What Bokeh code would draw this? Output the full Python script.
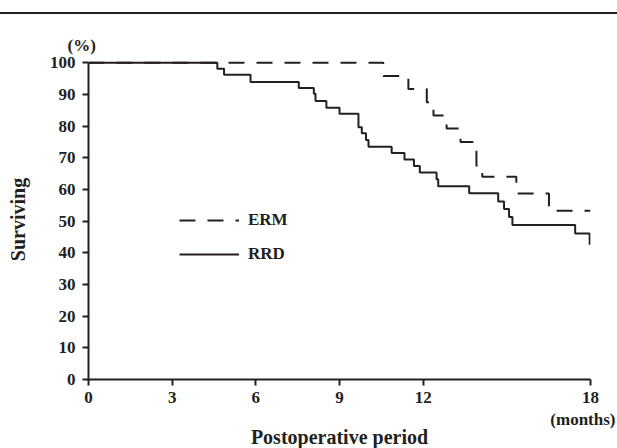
from bokeh.plotting import figure
from bokeh.models import Range1d, FixedTicker, Legend, LegendItem, Div, Title
from bokeh.layouts import column
from bokeh.embed import file_html
from bokeh.resources import INLINE

# ---- data ----
x_ticks = [0, 3, 6, 9, 12, 18]
y_ticks = [0, 10, 20, 30, 40, 50, 60, 70, 80, 90, 100]

erm_months = [0, 10.57, 11.47, 12.13, 12.37, 12.84, 13.34, 13.91, 14.12, 15.34, 16.51, 18]
erm_surv = [100, 95.8, 91.7, 87.5, 83.3, 79.2, 75.0, 67.5, 64.0, 58.7, 53.3, 53.3]

rrd_months = [0, 4.62, 4.86, 5.81, 7.54, 8.08, 8.14, 8.53, 9.00, 9.68, 9.80, 9.95,
              10.04, 10.87, 11.33, 11.67, 11.88, 12.48, 12.54, 13.65, 14.69, 14.90,
              15.08, 15.20, 17.45, 17.97]
rrd_surv = [100, 98.1, 96.2, 93.9, 92.0, 90.2, 87.9, 85.8, 83.9, 79.6, 77.7, 75.6,
            73.5, 71.5, 69.4, 67.4, 65.3, 63.2, 61.0, 58.8, 56.2, 53.8,
            51.3, 48.8, 46.1, 42.5]

INK = "#231f20"
FONT = "Liberation Serif"

p = figure(width=617, height=434, output_backend="svg", toolbar_location=None,
           x_range=Range1d(0, 18), y_range=Range1d(0, 101),
           min_border_left=88, min_border_right=27, min_border_top=45, min_border_bottom=69)
p.outline_line_color = None
p.grid.visible = False
p.background_fill_color = "white"
p.border_fill_color = "white"

erm = p.step(erm_months, erm_surv, mode="after", line_color=INK, line_width=2,
             line_dash="16 12")
rrd = p.step(rrd_months, rrd_surv, mode="after", line_color=INK, line_width=2)

for ax, ticks in ((p.xaxis, x_ticks), (p.yaxis, y_ticks)):
    ax.ticker = FixedTicker(ticks=ticks)
    ax.axis_line_width = 2
    ax.axis_line_color = INK
    ax.major_tick_line_width = 2
    ax.major_tick_line_color = INK
    ax.major_tick_out = 6
    ax.major_tick_in = 0
    ax.minor_tick_line_color = None
    ax.major_label_text_font = FONT
    ax.major_label_text_font_style = "bold"
    ax.major_label_text_font_size = "17px"
    ax.major_label_text_color = INK
    ax.axis_label_text_font = FONT
    ax.axis_label_text_font_style = "bold"
    ax.axis_label_text_font_size = "20px"
    ax.axis_label_text_color = INK

p.xaxis.bounds = (0, 18)
p.yaxis.bounds = (0, 100)
p.xaxis.major_label_standoff = 6
p.yaxis.major_label_standoff = 7
p.yaxis.axis_label = "Surviving"
p.yaxis.axis_label_standoff = 18

# "(%)" unit above the y axis
p.title.text = "(%)"
p.title.align = "left"
p.title.offset = -21
p.title.standoff = 10
p.title.text_font = FONT
p.title.text_font_style = "bold"
p.title.text_font_size = "17px"
p.title.text_color = INK

months = Title(text="(months)", align="right", offset=-25, standoff=4,
               text_font=FONT, text_font_style="bold", text_font_size="17px",
               text_color=INK)
period = Title(text="Postoperative period", align="center", offset=-6, standoff=-14,
               text_font=FONT, text_font_style="bold", text_font_size="20px",
               text_color=INK)
p.add_layout(months, "below")
p.add_layout(period, "below")

legend = Legend(items=[LegendItem(label="ERM", renderers=[erm]),
                       LegendItem(label="RRD", renderers=[rrd])],
                location=(91, 115), glyph_width=60, glyph_height=20, label_height=20,
                label_standoff=9, spacing=14, padding=0, margin=0,
                border_line_color=None, background_fill_alpha=0,
                label_text_font=FONT, label_text_font_style="bold",
                label_text_font_size="17px", label_text_color=INK)
p.add_layout(legend)

rule = Div(text="", width=617, height=2, margin=(12, 0, 0, 0),
           styles={"background-color": INK})

layout = column(rule, p, spacing=0)
open("out.html", "w").write(file_html(layout, INLINE))
